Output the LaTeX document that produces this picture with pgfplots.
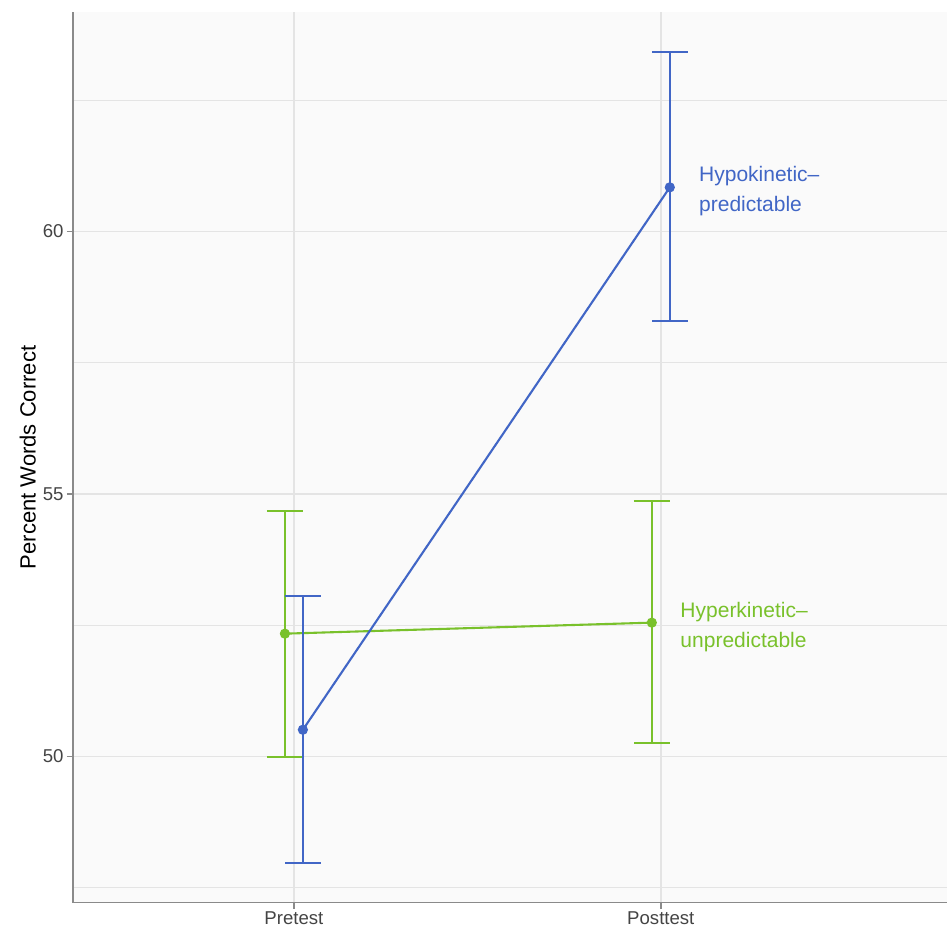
\documentclass[border=0pt]{standalone}
\usepackage{pgfplots}
\pgfplotsset{compat=1.18}
\usepackage{fontspec}
\setmainfont{Liberation Sans}
\usetikzlibrary{calc}
\definecolor{bluec}{HTML}{4166C6}
\definecolor{greenc}{HTML}{79C12B}
\definecolor{panel}{HTML}{FAFAFA}
\definecolor{gridc}{HTML}{E4E4E4}
\definecolor{axc}{HTML}{8A8A8A}
\definecolor{tickc}{HTML}{444444}
\begin{document}
\begin{tikzpicture}
\begin{axis}[
 scale only axis,
 width=874pt, height=890pt,
 xmin=0.398, xmax=2.78, ymin=47.22, ymax=64.17,
 axis x line=bottom, axis y line=left,
 axis line style={axc, line width=1.8pt, -},
 axis background/.style={fill=panel},
 xtick={1,2}, xticklabels={Pretest,Posttest},
 ytick={50,55,60},
 minor ytick={47.5,52.5,57.5,62.5},
 grid=both,
 major grid style={gridc, line width=1.8pt},
 minor grid style={gridc, line width=1pt},
 tick align=outside,
 major tick length=6pt,
 minor tick length=0pt,
 tick style={axc, line width=1.6pt},
 ticklabel style={font=\fontsize{18.6}{22}\selectfont, text=tickc},
 /pgf/number format/assume math mode=true,
 ylabel={Percent Words Correct},
 ylabel style={font=\fontsize{22}{26}\selectfont, text=black},
 clip=false,
]
\addplot[greenc, line width=2.1pt, mark=*, mark size=4pt, mark options={fill=greenc, draw=greenc},
  error bars/.cd, y dir=both, y explicit,
  error mark=|,
  error bar style={greenc, line width=2.2pt},
  error mark options={greenc, line width=2pt, mark size=18pt}]
  coordinates {(0.9755,52.34) += (0,2.33) -= (0,2.34)
               (1.9755,52.55) += (0,2.31) -= (0,2.30)};
\addplot[bluec, line width=2.1pt, mark=*, mark size=4pt, mark options={fill=bluec, draw=bluec},
  error bars/.cd, y dir=both, y explicit,
  error mark=|,
  error bar style={bluec, line width=2.2pt},
  error mark options={bluec, line width=2pt, mark size=18pt}]
  coordinates {(1.0245,50.51) += (0,2.54) -= (0,2.53)
               (2.0245,60.84) += (0,2.57) -= (0,2.55)};
\node[anchor=west, align=left, text=bluec, font=\fontsize{21}{30}\selectfont] at (axis cs:2.095,60.76) {Hypokinetic–\\predictable};
\node[anchor=west, align=left, text=greenc, font=\fontsize{21}{30}\selectfont] at (axis cs:2.044,52.46) {Hyperkinetic–\\unpredictable};
\end{axis}
\pgfresetboundingbox
\path ($(current axis.south west)+(-73pt,-26pt)$) rectangle ($(current axis.north east)+(0pt,12.5pt)$);
\end{tikzpicture}
\end{document}
